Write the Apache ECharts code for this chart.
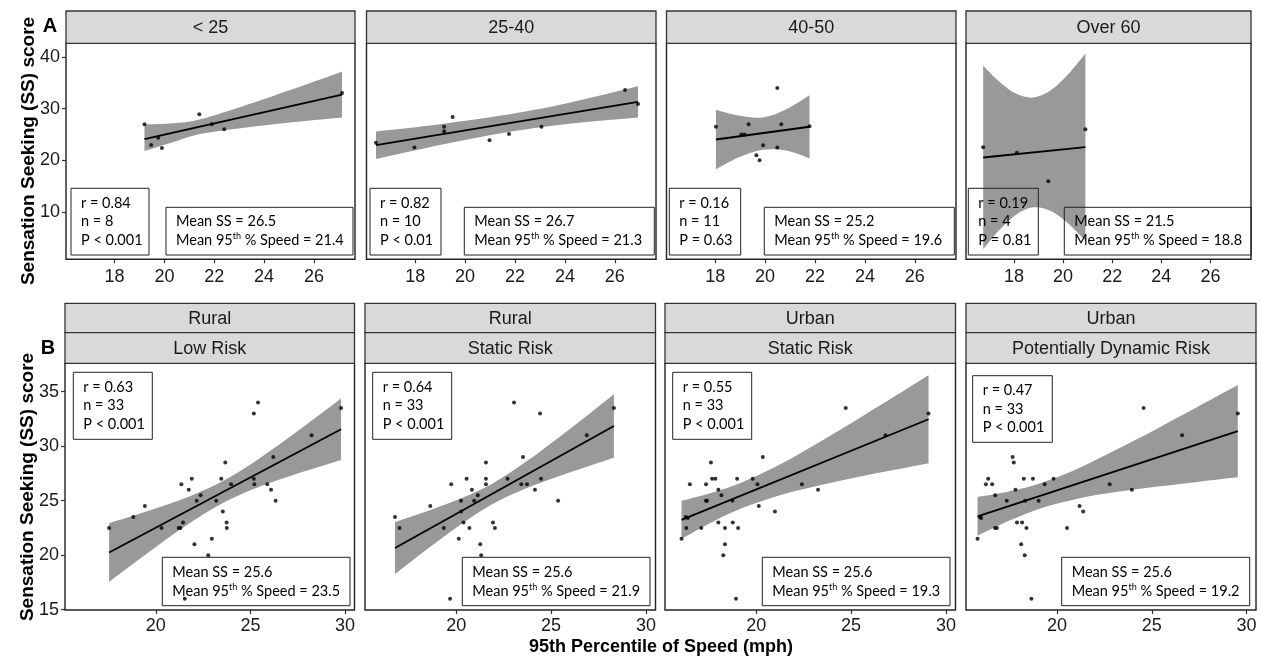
<!DOCTYPE html>
<html><head><meta charset="utf-8">
<script src="https://cdn.jsdelivr.net/npm/echarts@6/dist/echarts.min.js"></script>
<style>html,body{margin:0;padding:0;background:#fff;}#c{width:1261px;height:658px;}</style>
</head><body><div id="c"></div>
<script>
// ---------------- DATA ----------------
// Row A: age groups
const ageGroups = ['< 25', '25-40', '40-50', 'Over 60'];
const aR = ['0.84', '0.82', '0.16', '0.19'];
const aN = ['8', '10', '11', '4'];
const aP = ['P < 0.001', 'P < 0.01', 'P = 0.63', 'P = 0.81'];
const aMeanSS = ['26.5', '26.7', '25.2', '21.5'];
const aMeanSpeed = ['21.4', '21.3', '19.6', '18.8'];
const aXTicks = [18, 20, 22, 24, 26];
const aYTicks = [10, 20, 30, 40];

const a1X = [19.2, 19.47, 19.75, 19.9, 21.4, 21.9, 22.4, 27.13];
const a1Y = [27.0, 23.0, 24.4, 22.4, 28.9, 27.0, 26.0, 33.0];
const a1FitX = [19.2, 27.13], a1FitY = [24.1, 32.7];
const a1BandX = [19.2, 20.4, 21.6, 24.4, 27.13];
const a1BandLo = [21.8, 23.6, 25.25, 27.0, 28.3];
const a1BandHi = [27.0, 27.2, 28.15, 32.5, 37.1];

const a2X = [16.43, 17.97, 19.16, 19.16, 19.5, 20.98, 21.76, 23.06, 26.41, 26.93];
const a2Y = [23.4, 22.5, 26.5, 25.65, 28.4, 23.9, 25.1, 26.5, 33.6, 30.9];
const a2FitX = [16.43, 26.93], a2FitY = [22.95, 31.3];
const a2BandX = [16.43, 19.0, 21.5, 24.0, 26.93];
const a2BandLo = [20.3, 23.0, 25.3, 27.0, 28.3];
const a2BandHi = [25.6, 27.0, 28.7, 30.95, 34.3];

const a3X = [18.03, 19.05, 19.18, 19.34, 19.65, 19.78, 19.92, 20.49, 20.49, 20.65, 21.78];
const a3Y = [26.5, 25.0, 25.0, 27.0, 21.0, 20.05, 22.95, 34.0, 22.5, 27.0, 26.6];
const a3FitX = [18.03, 21.78], a3FitY = [24.04, 26.5];
const a3BandX = [18.03, 18.95, 19.9, 20.85, 21.78];
const a3BandLo = [18.3, 20.6, 22.05, 21.9, 20.4];
const a3BandHi = [29.8, 28.65, 28.3, 29.9, 32.6];

const a4X = [16.75, 18.12, 19.4, 20.91];
const a4Y = [22.56, 21.47, 16.0, 26.0];
const a4FitX = [16.75, 20.91], a4FitY = [20.57, 22.56];
const a4BandX = [16.75, 17.4, 18.1, 18.8, 19.5, 20.2, 20.91];
const a4BandLo = [2.87, 6.53, 9.57, 10.97, 10.24, 7.87, 4.51];
const a4BandHi = [38.27, 35.23, 32.85, 32.13, 33.52, 36.57, 40.61];

// Row B: location x risk
const bArea = ['Rural', 'Rural', 'Urban', 'Urban'];
const bRisk = ['Low Risk', 'Static Risk', 'Static Risk', 'Potentially Dynamic Risk'];
const bR = ['0.63', '0.64', '0.55', '0.47'];
const bN = ['33', '33', '33', '33'];
const bP = ['P < 0.001', 'P < 0.001', 'P < 0.001', 'P < 0.001'];
const bMeanSS = ['25.6', '25.6', '25.6', '25.6'];
const bMeanSpeed = ['23.5', '21.9', '19.3', '19.2'];
const bXTicks = [20, 25, 30];
const bYTicks = [15, 20, 25, 30, 35];

const b1X = [17.53, 18.81, 19.42, 20.3, 21.21, 21.35, 21.44, 21.74, 21.9, 22.04, 22.16, 22.37, 22.77, 22.96, 23.19, 23.46, 23.54, 23.67, 23.74, 23.75, 23.98, 21.53, 25.18, 25.4, 25.18, 25.21, 25.89, 26.09, 26.21, 26.33, 28.23, 29.79, 21.3];
const b1Y = [22.5, 23.5, 24.5, 22.5, 22.5, 26.5, 23, 26, 27, 21, 25, 25.5, 20, 21.5, 25, 27, 24, 28.5, 23, 22.5, 26.5, 16, 33, 34, 27, 26.5, 26.5, 26, 29, 25, 31, 33.5, 22.5];
const b1FitX = [17.53, 29.79], b1FitY = [20.25, 31.55];
const b1BandX = [17.53, 19, 20.5, 22, 23.5, 25, 26.5, 28, 29.79];
const b1BandLo = [17.56, 19.47, 21.39, 23.19, 24.75, 25.95, 26.92, 27.77, 28.73];
const b1BandHi = [22.94, 23.73, 24.59, 25.55, 26.75, 28.31, 30.12, 32.03, 34.37];

const b2X = [16.78, 17.02, 18.64, 19.35, 19.74, 19.68, 20.14, 20.26, 20.26, 20.39, 20.55, 20.7, 20.83, 20.95, 21.14, 21.27, 21.32, 21.57, 21.57, 21.57, 21.94, 22.04, 22.71, 23.05, 23.43, 23.52, 23.73, 24.15, 24.42, 24.47, 25.37, 26.88, 28.31];
const b2Y = [23.5, 22.5, 24.5, 22.5, 26.5, 16, 21.5, 25, 24, 23, 27, 22.5, 26, 25, 25.5, 21, 20, 28.5, 27, 26.5, 23, 22.5, 27, 34, 26.5, 29, 26.5, 26, 33, 27, 25, 31, 33.5];
const b2FitX = [16.78, 28.31], b2FitY = [20.65, 31.85];
const b2BandX = [16.78, 18.5, 20.2, 21.9, 23.6, 25.3, 27.0, 28.31];
const b2BandLo = [18.25, 20.58, 22.77, 24.68, 26.07, 27.18, 28.18, 28.93];
const b2BandHi = [23.05, 24.06, 25.17, 26.56, 28.47, 30.66, 32.96, 34.77];

const b3X = [16.07, 16.3, 16.32, 16.51, 17.11, 17.36, 17.36, 17.41, 17.62, 17.68, 17.85, 18.01, 18.01, 18.17, 18.27, 18.36, 18.36, 18.75, 18.77, 18.94, 19.0, 19.05, 19.82, 20.07, 20.14, 20.35, 20.99, 22.41, 23.26, 24.72, 26.81, 29.08, 16.4];
const b3Y = [21.5, 23.5, 22.5, 26.5, 22.5, 26.5, 25, 25, 28.5, 27, 27, 26, 23, 25.5, 20, 22.5, 21, 25, 23, 16, 27, 22.5, 27, 26.5, 24.5, 29, 24, 26.5, 26, 33.5, 31, 33, 23.4];
const b3FitX = [16.07, 29.08], b3FitY = [23.24, 32.47];
const b3BandX = [16.07, 17.7, 19.3, 21.3, 23.3, 25.3, 27.3, 29.08];
const b3BandLo = [21.5, 23.05, 24.34, 25.53, 26.4, 27.15, 27.83, 28.44];
const b3BandHi = [24.98, 25.75, 26.72, 28.37, 30.34, 32.43, 34.57, 36.5];

const b4X = [15.81, 15.93, 16.25, 16.37, 16.58, 16.73, 16.74, 16.83, 17.35, 17.66, 17.72, 17.81, 17.89, 18.11, 18.16, 18.25, 18.3, 18.32, 18.39, 18.65, 18.73, 19.03, 19.35, 19.82, 20.53, 21.19, 21.38, 22.78, 23.95, 24.57, 26.6, 29.54, 16.0];
const b4Y = [21.5, 23.5, 26.5, 27, 26.5, 22.5, 25.5, 22.5, 25, 29, 28.5, 26, 23, 21, 23, 27, 20, 25, 22.5, 16, 27, 25, 26.5, 27, 22.5, 24.5, 24, 26.5, 26, 33.5, 31, 33, 23.4];
const b4FitX = [15.81, 29.54], b4FitY = [23.56, 31.37];
const b4BandX = [15.81, 17.5, 19.2, 21.2, 23.2, 25.2, 27.4, 29.54];
const b4BandLo = [21.79, 23.18, 24.33, 25.23, 25.81, 26.27, 26.72, 27.14];
const b4BandHi = [25.33, 25.86, 26.65, 28.03, 29.73, 31.53, 33.58, 35.6];

const xTitle = '95th Percentile of Speed (mph)';
const yTitle = 'Sensation Seeking (SS) score';

// ---------------- LAYOUT ----------------
const FONT = "'Liberation Sans', Arial, sans-serif";
const BOXFONT = "Lato, 'Open Sans', sans-serif";
const TXT = '#1a1a1a';
const rowA = {top: 43.3, height: 216, lefts: [66, 366.5, 666.5, 966], widths: [289, 289.5, 289.5, 285],
  xMin: 16.05, xMax: 27.65, yMin: 0.93, yMax: 42.6, labelMargin: 9,
  rBox: [[71, 188.3, 78, 66.7], [370, 188.3, 71, 66.7], [669.3, 188.3, 71.4, 66.7], [968.3, 188.3, 70, 66.7]],
  mBox: [[166, 207.3, 187, 47.7], [464.3, 207.3, 190, 47.7], [764.3, 207.3, 190, 47.7], [1064.3, 207.3, 187, 47.7]]};
const rowB = {top: 363.3, height: 246.7, lefts: [65, 365, 665, 966], widths: [289.5, 290.5, 290.5, 290],
  xMin: 15.2, xMax: 30.5, yMin: 14.97, yMax: 37.6, labelMargin: 7,
  rBox: [[73.3, 372.3, 79, 67], [372.7, 372.3, 79, 67], [672.7, 372.3, 79, 67], [972.7, 375.7, 79.6, 66.6]],
  mBox: [[162.3, 557.3, 187.7, 48.4], [462.3, 557.3, 187.7, 48.4], [762.3, 557.3, 187.7, 48.4], [1061.7, 557.3, 188, 48.4]]};

const panelsA = [
  [a1X, a1Y, a1FitX, a1FitY, a1BandX, a1BandLo, a1BandHi],
  [a2X, a2Y, a2FitX, a2FitY, a2BandX, a2BandLo, a2BandHi],
  [a3X, a3Y, a3FitX, a3FitY, a3BandX, a3BandLo, a3BandHi],
  [a4X, a4Y, a4FitX, a4FitY, a4BandX, a4BandLo, a4BandHi]];
const panelsB = [
  [b1X, b1Y, b1FitX, b1FitY, b1BandX, b1BandLo, b1BandHi],
  [b2X, b2Y, b2FitX, b2FitY, b2BandX, b2BandLo, b2BandHi],
  [b3X, b3Y, b3FitX, b3FitY, b3BandX, b3BandLo, b3BandHi],
  [b4X, b4Y, b4FitX, b4FitY, b4BandX, b4BandLo, b4BandHi]];

const zip = (xs, ys) => xs.map((x, i) => [x, ys[i]]);

// smooth curve through pixel points (Catmull-Rom -> cubic Bezier), path drawing only
function curveThrough(pts) {
  let d = '';
  for (let i = 0; i < pts.length - 1; i++) {
    const p0 = pts[Math.max(0, i - 1)], p1 = pts[i], p2 = pts[i + 1], p3 = pts[Math.min(pts.length - 1, i + 2)];
    const c1 = [p1[0] + (p2[0] - p0[0]) / 6, p1[1] + (p2[1] - p0[1]) / 6];
    const c2 = [p2[0] - (p3[0] - p1[0]) / 6, p2[1] - (p3[1] - p1[1]) / 6];
    d += ' C' + c1[0].toFixed(2) + ' ' + c1[1].toFixed(2) + ' ' + c2[0].toFixed(2) + ' ' + c2[1].toFixed(2) + ' ' + p2[0].toFixed(2) + ' ' + p2[1].toFixed(2);
  }
  return d;
}

const grids = [], xAxes = [], yAxes = [], series = [], graphics = [];

function addRow(row, panels, xTicks, yTicks) {
  panels.forEach((p, k) => {
    const gi = grids.length;
    grids.push({left: row.lefts[k], top: row.top, width: row.widths[k], height: row.height,
      show: true, borderWidth: 0, backgroundColor: '#fff', containLabel: false});
    xAxes.push({type: 'value', gridIndex: gi, min: row.xMin, max: row.xMax,
      axisLine: {show: false, onZero: false}, splitLine: {show: false},
      axisTick: {show: true, length: 4, lineStyle: {color: '#333', width: 1.2}, customValues: xTicks},
      axisLabel: {customValues: xTicks, fontSize: 18, color: TXT, fontFamily: FONT, margin: row.labelMargin}});
    yAxes.push({type: 'value', gridIndex: gi, min: row.yMin, max: row.yMax,
      axisLine: {show: false, onZero: false}, splitLine: {show: false},
      axisTick: {show: k === 0, length: 4, lineStyle: {color: '#333', width: 1.2}, customValues: yTicks},
      axisLabel: {show: k === 0, customValues: yTicks, fontSize: 18, color: TXT, fontFamily: FONT, margin: 6}});
    const [px, py, fx, fy, bx, lo, hi] = p;
    // 95% confidence band between lower and upper edges
    series.push({type: 'custom', coordinateSystem: 'cartesian2d', xAxisIndex: gi, yAxisIndex: gi,
      data: [[bx[0], hi[0]]], clip: true, silent: true, z: 1,
      renderItem: function (params, api) {
        const up = bx.map((x, i) => api.coord([x, hi[i]]));
        const dn = bx.map((x, i) => api.coord([x, lo[i]])).reverse();
        const d = 'M' + up[0][0] + ' ' + up[0][1] + curveThrough(up) +
          ' L' + dn[0][0] + ' ' + dn[0][1] + curveThrough(dn) + ' Z';
        return {type: 'path', shape: {pathData: d}, style: {fill: '#999999', stroke: null}};
      }});
    series.push({type: 'line', xAxisIndex: gi, yAxisIndex: gi, data: zip(fx, fy), symbol: 'none',
      lineStyle: {color: '#000', width: 1.8}, silent: true, z: 3});
    series.push({type: 'scatter', xAxisIndex: gi, yAxisIndex: gi, data: zip(px, py), symbolSize: 4,
      itemStyle: {color: '#000'}, silent: true, z: 4});
    graphics.push({type: 'rect', shape: {x: row.lefts[k], y: row.top, width: row.widths[k], height: row.height},
      style: {fill: 'transparent', stroke: '#222', lineWidth: 1.4}, z: 9});
  });
}
addRow(rowA, panelsA, aXTicks, aYTicks);
addRow(rowB, panelsB, bXTicks, bYTicks);

function strip(x, y, w, h, label) {
  graphics.push({type: 'rect', shape: {x: x, y: y, width: w, height: h},
    style: {fill: '#d9d9d9', stroke: '#333', lineWidth: 1.3}, z: 10});
  graphics.push({type: 'text', x: x + w / 2, y: y + h / 2 + 1, z: 11,
    style: {text: label, font: '18px ' + FONT, fill: TXT, align: 'center', verticalAlign: 'middle'}});
}
function box(b, lines) {
  graphics.push({type: 'rect', shape: {x: b[0], y: b[1], width: b[2], height: b[3]},
    style: {fill: 'transparent', stroke: '#222', lineWidth: 1}, z: 12});
  const n = lines.length;
  const step = 18.7;
  const first = b[1] + b[3] / 2 - (n - 1) * step / 2;
  lines.forEach((t, i) => {
    graphics.push({type: 'text', x: b[0] + 10, y: first + i * step, z: 13,
      style: {text: t, font: '14.5px ' + BOXFONT, fill: '#000', align: 'left', verticalAlign: 'middle',
        rich: {a: {fontSize: 14.5, fontFamily: BOXFONT, fill: '#000', lineHeight: 18},
               s: {fontSize: 9, fontFamily: BOXFONT, fill: '#000', lineHeight: 18, padding: [0, 0, 8, 0]}}}});
  });
}

ageGroups.forEach((g, k) => {
  strip(rowA.lefts[k], 11, rowA.widths[k], rowA.top - 11, g);
  box(rowA.rBox[k], ['r = ' + aR[k], 'n = ' + aN[k], aP[k]]);
  box(rowA.mBox[k], ['Mean SS = ' + aMeanSS[k], '{a|Mean 95}{s|th}{a| % Speed = ' + aMeanSpeed[k] + '}']);
});
bArea.forEach((g, k) => {
  strip(rowB.lefts[k], 303.3, rowB.widths[k], 29.4, g);
  strip(rowB.lefts[k], 332.7, rowB.widths[k], rowB.top - 332.7, bRisk[k]);
  box(rowB.rBox[k], ['r = ' + bR[k], 'n = ' + bN[k], bP[k]]);
  box(rowB.mBox[k], ['Mean SS = ' + bMeanSS[k], '{a|Mean 95}{s|th}{a| % Speed = ' + bMeanSpeed[k] + '}']);
});

graphics.push({type: 'text', x: 50, y: 26, z: 20, style: {text: 'A', font: 'bold 20px ' + FONT, fill: '#000', align: 'center', verticalAlign: 'middle'}});
graphics.push({type: 'text', x: 48, y: 348, z: 20, style: {text: 'B', font: 'bold 20px ' + FONT, fill: '#000', align: 'center', verticalAlign: 'middle'}});
graphics.push({type: 'text', x: 29, y: 151, rotation: Math.PI / 2, z: 20, style: {text: yTitle, font: 'bold 19px ' + FONT, fill: '#000', align: 'center', verticalAlign: 'middle'}});
graphics.push({type: 'text', x: 28, y: 487, rotation: Math.PI / 2, z: 20, style: {text: yTitle, font: 'bold 19px ' + FONT, fill: '#000', align: 'center', verticalAlign: 'middle'}});
graphics.push({type: 'text', x: 661, y: 647, z: 20, style: {text: xTitle, font: 'bold 18px ' + FONT, fill: '#000', align: 'center', verticalAlign: 'middle'}});

const chart = echarts.init(document.getElementById('c'), null, {renderer: 'canvas'});
chart.setOption({
  animation: false,
  backgroundColor: '#fff',
  grid: grids, xAxis: xAxes, yAxis: yAxes, series: series, graphic: graphics
});
</script></body></html>
